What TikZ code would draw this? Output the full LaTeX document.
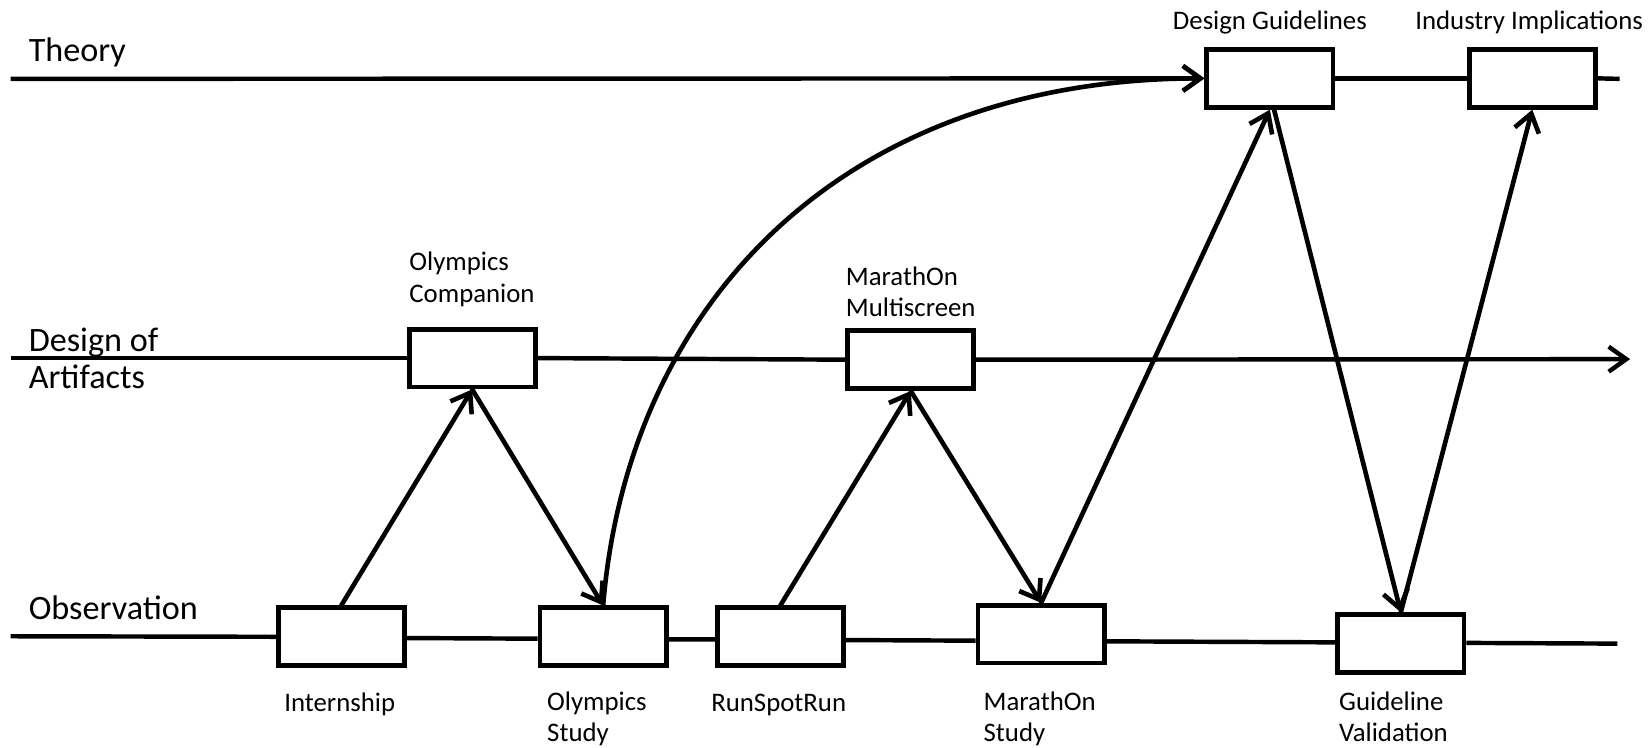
\documentclass[tikz,border=0pt]{standalone}
\usepackage{fontspec}
\setmainfont{Carlito}
\usetikzlibrary{arrows.meta}
\begin{document}
\begin{tikzpicture}[x=0.02cm,y=-0.02cm,
  box/.style={draw,line width=2.6pt,fill=white,minimum width=2.4cm,minimum height=1.1cm,inner sep=0pt},
  tl/.style={line width=2.4pt},
  tip/.style={-{Straight Barb[length=9.5pt,width=13.5pt]}},
  arr/.style={line width=2.5pt,line cap=round,tip},
  big/.style={font=\fontsize{18.5}{19.6}\selectfont,align=left,inner sep=0pt},
  small/.style={font=\fontsize{14.5}{17}\selectfont,align=left,inner sep=0pt},
]
\useasboundingbox (0,0) rectangle (1568,711);

% boxes
\node[box] (DG) at (1207.5,74.5) {};
\node[box] (II) at (1457,74.5) {};
\node[box] (OC) at (449,340.5) {};
\node[box] (MM) at (866,342) {};
\node[box] (IN) at (324.5,605.5) {};
\node[box] (OS) at (573.5,605.5) {};
\node[box] (RS) at (742,605.5) {};
\node[box] (MS) at (990,603) {};
\node[box] (GV) at (1332,612) {};

% row labels (base = baseline of the last line)
\node[big,anchor=base west] (Lth) at (27,58.5) {Theory};
\node[big,anchor=base west] (Lda) at (27,369) {Design of\\Artifacts};
\node[big,anchor=base west] (Lob) at (27,589.5) {Observation};

% box labels
\node[small,anchor=base] (Ldg) at (1207.5,28) {Design Guidelines};
\node[small,anchor=base] (Lii) at (1454,28) {Industry Implications};
\node[small,anchor=base west] (Loc) at (389,287.5) {Olympics\\Companion};
\node[small,anchor=base west] (Lmm) at (804,301) {MarathOn\\Multiscreen};
\node[small,anchor=base west] (Lin) at (270,677) {Internship};
\node[small,anchor=base west] (Los) at (520,705.5) {Olympics\\Study};
\node[small,anchor=base west] (Lrs) at (676,677) {RunSpotRun};
\node[small,anchor=base west] (Lms) at (935,705.5) {MarathOn\\Study};
\node[small,anchor=base west] (Lgv) at (1273,705.5) {Guideline\\Validation};

% end points of the time lines
\coordinate (T0) at (10,75);
\coordinate (T1) at (1540,75);
\coordinate (D0) at (10,340.5);
\coordinate (D1) at (1550,341.5);
\coordinate (O0) at (10,605);
\coordinate (O1) at (1538,612);

% theory line
\draw[tl,tip] (T0) -- (DG.west);
\draw[tl] (DG.east) -- (II.west);
\draw[tl] (II.east) -- (T1);

% design line
\draw[tl] (D0) -- (OC.west);
\draw[tl] (OC.east) -- (MM.west);
\draw[tl,tip] (MM.east) -- (D1);

% observation line
\draw[tl] (O0) -- (IN.west);
\draw[tl] (IN.east |- 0,606.7) -- (OS.west |- 0,607.3);
\draw[tl] (OS.east |- 0,607.9) -- (RS.west |- 0,608);
\draw[tl] (RS.east |- 0,608.6) -- (MS.west |- 0,609.2);
\draw[tl] (MS.east |- 0,609.8) -- (GV.west |- 0,610.8);
\draw[tl] (GV.east |- 0,611.3) -- (O1);

% arrows
\draw[arr] (IN.north) -- (OC.south);
\draw[arr] (OC.south) -- (OS.north);
\draw[arr] (RS.north) -- (MM.south);
\draw[arr] (MM.south) -- (MS.north);
\draw[arr] (MS.north) -- (DG.south);
\draw[arr] ([xshift=0.08cm]DG.south) -- (GV.north);
\draw[arr] (GV.north) -- (II.south);
\draw[arr] (OS.north) .. controls (597,290) and (800,75) .. (DG.west);
\end{tikzpicture}
\end{document}
